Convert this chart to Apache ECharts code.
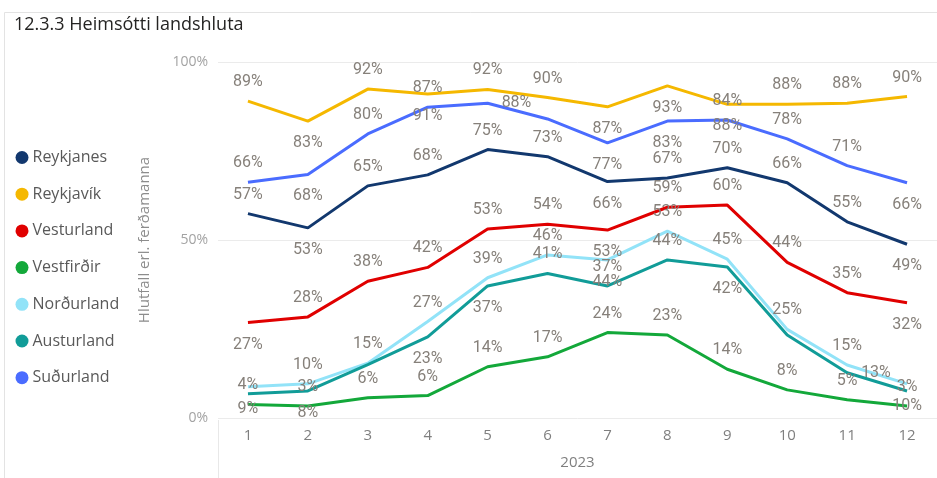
<!DOCTYPE html>
<html>
<head>
<meta charset="utf-8">
<script src="https://cdn.jsdelivr.net/npm/echarts@6/dist/echarts.min.js"></script>
<style>
html,body{margin:0;padding:0;background:#fff;}
#chart{width:937px;height:478px;}
</style>
</head>
<body>
<div id="chart"></div>
<script>
const months = ['1','2','3','4','5','6','7','8','9','10','11','12'];
const seriesNames = ['Reykjanes','Reykjavík','Vesturland','Vestfirðir','Norðurland','Austurland','Suðurland'];
const reykjanes  = [57.4, 53.4, 65.2, 68.3, 75.4, 73.4, 66.4, 67.4, 70.3, 66.1, 55.1, 48.8];
const reykjavik  = [89.0, 83.4, 92.4, 91.0, 92.3, 90.0, 87.4, 93.3, 88.1, 88.1, 88.4, 90.3];
const vesturland = [26.8, 28.4, 38.4, 42.3, 53.1, 54.4, 52.8, 59.2, 59.8, 43.7, 35.2, 32.4];
const vestfirdir = [3.8, 3.4, 5.7, 6.3, 14.4, 17.2, 24.0, 23.3, 13.7, 7.9, 5.1, 3.4];
const nordurland = [8.8, 9.6, 15.4, 27.1, 39.4, 45.8, 44.4, 52.5, 44.6, 24.9, 14.9, 9.6];
const austurland = [6.8, 7.6, 15.0, 22.8, 37.1, 40.6, 37.1, 44.4, 42.4, 23.3, 12.7, 7.6];
const sudurland  = [66.2, 68.4, 79.8, 87.3, 88.4, 84.0, 77.3, 83.4, 83.7, 78.4, 70.9, 66.1];
const yTicks = [0, 50, 100];

// label placement per point (t = above, b = below, r = right, '' = hidden)
const placeReykjanes  = ['t','b','t','t','t','t','b','t','t','t','t','b'];
const placeReykjavik  = ['t','b','t','b','t','t','b','b','b','t','t','t'];
const placeVesturland = ['b','t','t','t','t','t','b','t','t','t','t','b'];
const placeVestfirdir = ['t','t','t','t','t','t','t','t','t','t','t','t'];
const placeNordurland = ['b','t','t','t','t','t','b','t','t','t','t','b'];
const placeAusturland = ['','b','','b','b','t','t','t','b','','r',''];
const placeSudurland  = ['t','b','t','t','r','','b','b','t','t','t','b'];

const colors = ['#12386e','#f5b800','#e00000','#13a83a','#92e3f8','#119c98','#4a6cff'];
const values = [reykjanes, reykjavik, vesturland, vestfirdir, nordurland, austurland, sudurland];
const places = [placeReykjanes, placeReykjavik, placeVesturland, placeVestfirdir, placeNordurland, placeAusturland, placeSudurland];

function labelFor(p){
  if (p === 't') return {show:true, position:'top', distance:11};
  if (p === 'b') return {show:true, position:'bottom', distance:14};
  if (p === 'r') return {show:true, position:'right', distance:14};
  return {show:false};
}

const series = seriesNames.map((name, i) => ({
  name: name,
  type: 'line',
  symbol: 'circle',
  symbolSize: 0,
  color: colors[i],
  lineStyle: {width: 3, color: colors[i]},
  itemStyle: {color: colors[i]},
  emphasis: {disabled: true},
  label: {
    show: true,
    fontFamily: 'Roboto',
    fontSize: 16,
    lineHeight: 16,
    color: '#86807a',
    formatter: p => Math.round(p.value) + '%'
  },
  data: values[i].map((v, j) => ({value: v, label: labelFor(places[i][j])}))
}));

const chart = echarts.init(document.getElementById('chart'), null, {renderer: 'canvas'});
chart.setOption({
  animation: false,
  backgroundColor: '#ffffff',
  title: {
    text: '12.3.3 Heimsótti landshluta',
    left: 14, top: 16, padding: 0,
    textStyle: {fontFamily: 'Open Sans', fontSize: 18, fontWeight: 'normal', color: '#252423'}
  },
  legend: {
    orient: 'vertical',
    left: 15.5, top: 149.5, padding: 0,
    icon: 'circle',
    itemWidth: 13, itemHeight: 13, itemGap: 20.7,
    textStyle: {fontFamily: 'Open Sans', fontSize: 16, lineHeight: 16, color: '#595959', padding: [0,0,0,-1]},
    data: seriesNames
  },
  grid: {left: 218, right: -14, top: 62, bottom: 60, containLabel: false},
  xAxis: {
    type: 'category',
    data: months,
    boundaryGap: true,
    axisLine: {show: false},
    axisTick: {show: false},
    axisLabel: {color: '#7f7f7f', fontFamily: 'Open Sans', fontSize: 15, margin: 10},
    name: '2023',
    nameLocation: 'middle',
    nameGap: 37,
    nameTextStyle: {color: '#7f7f7f', fontFamily: 'Open Sans', fontSize: 15}
  },
  yAxis: {
    type: 'value',
    min: yTicks[0], max: yTicks[yTicks.length - 1], interval: 50,
    axisLine: {show: false},
    axisTick: {show: false},
    axisLabel: {color: '#a3a3a3', fontFamily: 'Open Sans', fontSize: 14, margin: 10, formatter: '{value}%'},
    splitLine: {lineStyle: {color: '#ebebeb', width: 1}},
    name: 'Hlutfall erl. ferðamanna',
    nameLocation: 'middle',
    nameGap: 66,
    nameTextStyle: {color: '#8c8c8c', fontFamily: 'Open Sans', fontSize: 15}
  },
  graphic: [
    {type: 'line', silent: true, shape: {x1: 4.5, y1: 12.5, x2: 937, y2: 12.5}, style: {stroke: '#e3e3e3', lineWidth: 1}},
    {type: 'line', silent: true, shape: {x1: 4.5, y1: 12.5, x2: 4.5, y2: 478}, style: {stroke: '#e3e3e3', lineWidth: 1}},
    {type: 'line', silent: true, shape: {x1: 218.5, y1: 420, x2: 218.5, y2: 478}, style: {stroke: '#e8e8e8', lineWidth: 1}}
  ],
  series: series
});
</script>
</body>
</html>
